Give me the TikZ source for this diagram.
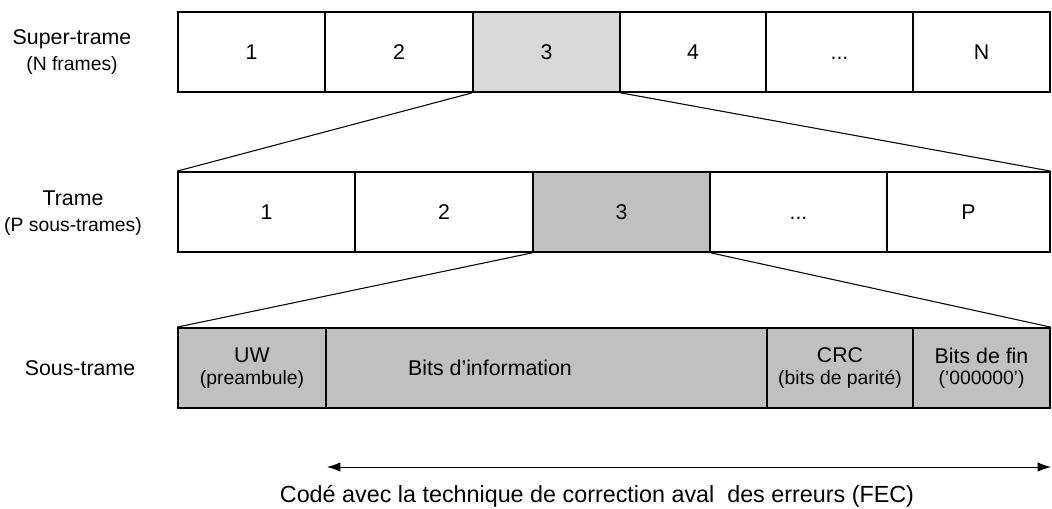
\documentclass[tikz,border=0pt]{standalone}
\usepackage{fontspec}
\setmainfont{Liberation Sans}
\usetikzlibrary{arrows.meta}
\definecolor{shadeA}{HTML}{D9D9D9}
\definecolor{shadeB}{HTML}{C0C0C0}
\newcommand{\subtxt}[1]{{\fontsize{14.5}{16}\selectfont #1}}
\tikzset{
  cell/.style={draw=black, line width=1.3pt, rectangle, inner sep=0pt,
    minimum height=60pt, align=center, font=\fontsize{16}{18}\selectfont},
  rowlabel/.style={align=center, font=\fontsize{16}{19}\selectfont},
  zoomline/.style={draw=black, line width=0.8pt},
  span/.style={draw=black, line width=0.7pt, {Latex[length=10pt,width=7pt]}-{Latex[length=10pt,width=7pt]}},
}
\begin{document}
\begin{tikzpicture}[x=0.75pt, y=-0.75pt]
\useasboundingbox (0,0) rectangle (1052,508);

% Super-trame: N frames
\node[rowlabel] (lab1) at (72,52) {Super-trame\\\subtxt{(N frames)}};
\node[cell, minimum width=110.25pt] (a1) at (251.5,52) {1};
\node[cell, minimum width=111pt] (a2) at (399,52) {2};
\node[cell, minimum width=110.25pt, fill=shadeA] (a3) at (546.5,52) {3};
\node[cell, minimum width=109.5pt] (a4) at (693,52) {4};
\node[cell, minimum width=110.25pt] (a5) at (839.5,52) {\vphantom{1}...};
\node[cell, minimum width=102.75pt] (a6) at (981.5,52) {N};

% Trame: P sous-trames
\node[rowlabel] (lab2) at (73,213) {Trame\\\subtxt{(P sous-trames)}};
\node[cell, minimum width=132.75pt] (b1) at (266.5,212) {1};
\node[cell, minimum width=133.5pt] (b2) at (444,212) {2};
\node[cell, minimum width=132.75pt, fill=shadeB] (b3) at (621.5,212) {3};
\node[cell, minimum width=132.75pt] (b4) at (798.5,212) {\vphantom{1}...};
\node[cell, minimum width=122.25pt] (b5) at (968.5,212) {P};

% Sous-trame fields
\node[rowlabel] (lab3) at (80,368) {Sous-trame};
\node[cell, minimum width=111pt, fill=shadeB] (c1) at (252,368) {UW\\[-2pt]\subtxt{(preambule)}};
\node[cell, minimum width=330.75pt, fill=shadeB] (c2) at (546.5,368) {};
\node[font=\fontsize{16}{18}\selectfont] (c2t) at (490,368) {Bits d'information};
\node[cell, minimum width=109.5pt, fill=shadeB] (c3) at (840,368) {CRC\\[-2pt]\subtxt{(bits de parité)}};
\node[cell, minimum width=102.75pt, fill=shadeB] (c4) at (981.5,368) {Bits de fin\\[-2pt]\subtxt{('000000')}};

% zoom-out lines
\draw[zoomline] (a3.south west) -- (b1.north west);
\draw[zoomline] (a3.south east) -- (b5.north east);
\draw[zoomline] (b3.south west) -- (c1.north west);
\draw[zoomline] (b3.south east) -- (c4.north east);

% FEC span
\coordinate (fecL) at (327,467);
\coordinate (fecR) at (1051,467);
\draw[span] (fecL) -- (fecR);
\node[font=\fontsize{17.5}{20}\selectfont] (fec) at (597,496) {Codé avec la technique de correction aval\ \ des erreurs (FEC)};
\end{tikzpicture}
\end{document}
